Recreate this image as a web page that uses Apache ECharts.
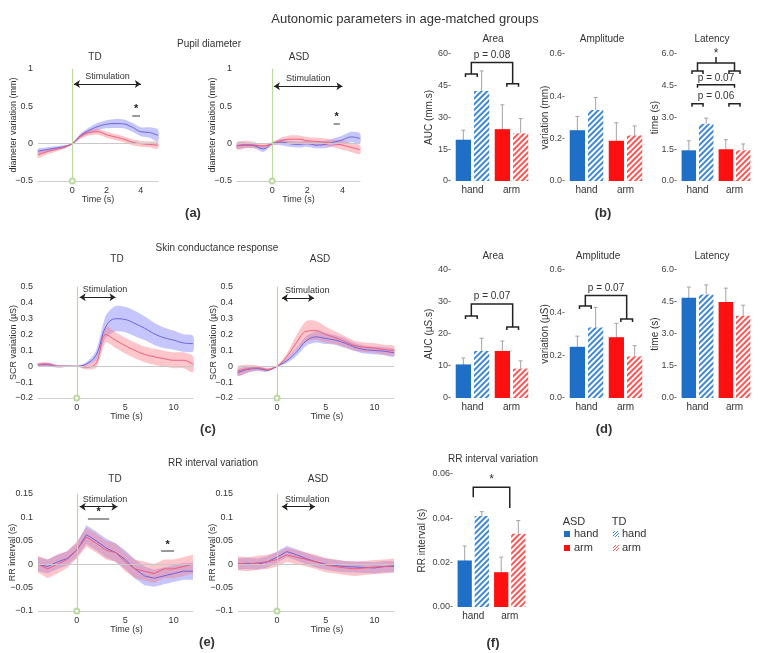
<!DOCTYPE html>
<html>
<head>
<meta charset="utf-8">
<script src="https://cdn.jsdelivr.net/npm/echarts@6/dist/echarts.min.js"></script>
<style>
  html, body { margin: 0; padding: 0; background: #fff; }
  #chart { width: 761px; height: 653px; }
</style>
</head>
<body>
<div id="chart"></div>
<script>
// ---- data ----
const bodyParts = ['hand', 'arm'];

const pupilTime = [-2, -1.5, -1, -0.5, 0, 0.5, 1, 1.5, 2, 2.5, 3, 3.5, 4, 4.5, 5];
const pupilTicks = [0, 2, 4];
const pupilTdHand = [-0.10, -0.08, -0.06, -0.04, 0, 0.11, 0.18, 0.23, 0.26, 0.27, 0.265, 0.22, 0.16, 0.15, 0.11];
const pupilTdHandCi = [0.035, 0.03, 0.025, 0.02, 0.01, 0.03, 0.04, 0.05, 0.055, 0.06, 0.06, 0.06, 0.06, 0.07, 0.08];
const pupilTdArm = [-0.15, -0.11, -0.08, -0.05, 0, 0.10, 0.15, 0.16, 0.12, 0.09, 0.06, 0.02, 0, -0.01, -0.02];
const pupilTdArmCi = [0.04, 0.035, 0.03, 0.02, 0.01, 0.03, 0.04, 0.04, 0.04, 0.04, 0.04, 0.04, 0.04, 0.04, 0.045];
const pupilAsdHand = [-0.03, -0.02, -0.03, -0.07, 0, 0.02, 0, -0.01, 0, -0.02, -0.01, 0.02, 0.05, 0.09, 0.07];
const pupilAsdHandCi = [0.04, 0.035, 0.03, 0.04, 0.02, 0.04, 0.04, 0.04, 0.04, 0.04, 0.05, 0.05, 0.06, 0.07, 0.07];
const pupilAsdArm = [-0.03, -0.01, -0.02, -0.03, 0, 0.04, 0.06, 0.06, 0.04, 0.03, 0.02, 0, -0.02, -0.05, -0.08];
const pupilAsdArmCi = [0.05, 0.05, 0.04, 0.03, 0.02, 0.04, 0.05, 0.05, 0.05, 0.05, 0.05, 0.05, 0.06, 0.06, 0.06];

const signalTime = [-4, -3, -2, -1, 0, 1, 2, 3, 4, 5, 6, 7, 8, 9, 10, 11, 12];
const signalTicks = [0, 5, 10];
const scrTdHand = [0.01, 0.01, 0, 0, 0, 0.015, 0.07, 0.25, 0.30, 0.295, 0.27, 0.24, 0.205, 0.18, 0.165, 0.147, 0.143];
const scrTdHandCi = [0.01, 0.01, 0.008, 0.005, 0.003, 0.01, 0.03, 0.07, 0.08, 0.08, 0.08, 0.075, 0.07, 0.065, 0.06, 0.055, 0.05];
const scrTdArm = [0.01, 0.015, 0, 0, 0, -0.005, 0.02, 0.2, 0.165, 0.13, 0.10, 0.075, 0.06, 0.048, 0.038, 0.038, 0.013];
const scrTdArmCi = [0.01, 0.01, 0.008, 0.005, 0.003, 0.015, 0.03, 0.05, 0.05, 0.05, 0.05, 0.05, 0.05, 0.05, 0.05, 0.05, 0.05];
const scrAsdHand = [-0.04, -0.02, -0.015, -0.025, 0, 0.035, 0.09, 0.16, 0.185, 0.175, 0.165, 0.145, 0.12, 0.105, 0.1, 0.095, 0.085];
const scrAsdHandCi = [0.02, 0.02, 0.015, 0.01, 0.005, 0.015, 0.025, 0.03, 0.035, 0.035, 0.03, 0.03, 0.025, 0.025, 0.025, 0.025, 0.025];
const scrAsdArm = [-0.03, -0.015, -0.01, -0.02, 0, 0.06, 0.15, 0.22, 0.225, 0.2, 0.18, 0.155, 0.13, 0.12, 0.115, 0.105, 0.1];
const scrAsdArmCi = [0.03, 0.025, 0.015, 0.01, 0.005, 0.02, 0.045, 0.065, 0.06, 0.05, 0.04, 0.035, 0.03, 0.03, 0.03, 0.03, 0.03];

const rrTdHand = [0, -0.005, 0.005, 0.012, 0.03, 0.063, 0.05, 0.035, 0.025, 0.01, -0.01, -0.025, -0.03, -0.025, -0.02, -0.015, -0.015];
const rrTdHandCi = [0.015, 0.015, 0.015, 0.015, 0.015, 0.02, 0.02, 0.02, 0.02, 0.02, 0.02, 0.02, 0.018, 0.018, 0.018, 0.018, 0.018];
const rrTdArm = [0, -0.01, 0, 0.01, 0.03, 0.058, 0.045, 0.03, 0.025, 0.005, -0.01, -0.015, -0.02, -0.01, -0.01, -0.005, 0];
const rrTdArmCi = [0.018, 0.02, 0.02, 0.018, 0.018, 0.02, 0.02, 0.02, 0.02, 0.02, 0.02, 0.02, 0.02, 0.02, 0.02, 0.02, 0.02];
const rrAsdHand = [0, 0.002, 0, 0.005, 0.015, 0.027, 0.02, 0.012, 0.005, 0, -0.003, -0.005, -0.006, -0.007, -0.008, -0.005, -0.005];
const rrAsdHandCi = [0.012, 0.012, 0.012, 0.012, 0.012, 0.012, 0.012, 0.012, 0.012, 0.012, 0.012, 0.012, 0.012, 0.012, 0.012, 0.012, 0.012];
const rrAsdArm = [0.002, 0, 0.003, 0.005, 0.01, 0.02, 0.015, 0.01, 0.005, -0.002, -0.005, -0.008, -0.01, -0.008, -0.006, -0.005, -0.003];
const rrAsdArmCi = [0.015, 0.015, 0.015, 0.015, 0.015, 0.015, 0.015, 0.015, 0.015, 0.015, 0.015, 0.015, 0.015, 0.015, 0.015, 0.015, 0.015];

// bar values [hand, arm] and their error half-widths
const pupilAreaAsd = [19.5, 24.5], pupilAreaAsdErr = [4.5, 11.5];
const pupilAreaTd = [42.5, 22.5], pupilAreaTdErr = [9.5, 7];
const pupilAmpAsd = [0.24, 0.19], pupilAmpAsdErr = [0.065, 0.085];
const pupilAmpTd = [0.335, 0.215], pupilAmpTdErr = [0.06, 0.045];
const pupilLatAsd = [1.45, 1.5], pupilLatAsdErr = [0.45, 0.45];
const pupilLatTd = [2.7, 1.45], pupilLatTdErr = [0.27, 0.3];
const scrAreaAsd = [10.5, 14.7], scrAreaAsdErr = [2, 3.1];
const scrAreaTd = [14.7, 9.2], scrAreaTdErr = [4, 2.4];
const scrAmpAsd = [0.24, 0.285], scrAmpAsdErr = [0.05, 0.065];
const scrAmpTd = [0.33, 0.195], scrAmpTdErr = [0.095, 0.05];
const scrLatAsd = [4.7, 4.5], scrLatAsdErr = [0.5, 0.65];
const scrLatTd = [4.85, 3.85], scrLatTdErr = [0.45, 0.5];
const rrAsd = [0.021, 0.0157], rrAsdErr = [0.0065, 0.0068];
const rrTd = [0.041, 0.033], rrTdErr = [0.002, 0.006];

// ---- styling ----
const FONT = "'Liberation Sans', Arial, sans-serif";
const BLUE_LINE = '#6c64dc', RED_LINE = '#f05c7a';
const BLUE_FILL = 'rgba(120,120,250,0.42)', RED_FILL = 'rgba(250,120,130,0.42)';
const SOLID = ['#1f6fc6', '#ff1010'];
const HATCH = ['#3f88d6', '#ff5454'];
const CAT_GAP = 0.14, BAR_GAP = 0.2;
const BAR_W = (1 - CAT_GAP) / (2 + BAR_GAP);
const BAR_OFF = BAR_W * (1 + BAR_GAP) / 2;

const grids = [], xAxis = [], yAxis = [], series = [], graphics = [];

function text(x, y, str, size, weight) {
  graphics.push({
    type: 'text', x: x, y: y, silent: true,
    style: { text: str, fill: '#333', font: (weight || 'normal') + ' ' + size + 'px ' + FONT,
      align: 'center', verticalAlign: 'middle', textAlign: 'center', textVerticalAlign: 'middle' }
  });
}

function fmtSigned(v) {
  return String(+v.toFixed(3)).replace('-', '\u2212');
}

// confidence band drawn as one polygon through the axis scales
function band(gi, t, mean, ci, fill, smooth) {
  series.push({
    type: 'custom', xAxisIndex: gi, yAxisIndex: gi, silent: true, animation: false,
    data: t.map((x, i) => [x, mean[i] - ci[i], mean[i] + ci[i]]),
    encode: { x: 0, y: [1, 2] },
    renderItem: function (params, api) {
      if (params.dataIndex !== 0) return null;
      const up = t.map((x, i) => api.coord([x, mean[i] + ci[i]]));
      const lo = t.map((x, i) => api.coord([x, mean[i] - ci[i]])).reverse();
      return { type: 'polygon', shape: { points: up.concat(lo), smooth: smooth ? 0.25 : 0 }, style: { fill: fill } };
    }
  });
}

function meanLine(gi, t, mean, color, smooth) {
  return { type: 'line', xAxisIndex: gi, yAxisIndex: gi, symbol: 'none', silent: true, smooth: smooth,
    data: mean.map((m, i) => [t[i], m]), lineStyle: { color: color, width: 1 }, animation: false };
}

function panelMarks(p) {
  const data = [
    { yAxis: 0, lineStyle: { color: '#c8c8c8', width: 1, type: 'solid' }, label: { show: false } },
    { xAxis: 0, symbol: 'emptyCircle', symbolSize: 5, lineStyle: { color: '#bcd9a2', width: 1.2, type: 'solid' }, label: { show: false } },
    [
      { coord: [p.stim[0], p.stimY], symbol: 'arrow', symbolSize: 6,
        lineStyle: { color: '#222', width: 1.2, type: 'solid' },
        label: { show: true, formatter: 'Stimulation', position: p.stimLabel, color: '#333', fontSize: 9, distance: 3 } },
      { coord: [p.stim[1], p.stimY], symbol: 'arrow', symbolSize: 6 }
    ]
  ];
  (p.stars || []).forEach(s => {
    data.push([
      { coord: [s[0], s[2]], lineStyle: { color: '#999', width: 2, type: 'solid' },
        label: { show: true, formatter: '*', position: 'insideMiddleTop', color: '#222', fontSize: 11, fontWeight: 'bold', distance: 1 } },
      { coord: [s[1], s[2]] }
    ]);
  });
  return { silent: true, symbol: 'none', animation: false, data: data };
}

function addLinePanel(p) {
  const gi = grids.length;
  grids.push({ left: p.left, top: p.top, width: p.width, height: p.height });
  xAxis.push({
    type: 'value', gridIndex: gi, min: p.t[0], max: p.t[p.t.length - 1],
    axisLine: { show: true, onZero: false, lineStyle: { color: '#cfcfcf' } },
    axisTick: { show: false }, splitLine: { show: false },
    axisLabel: { customValues: p.ticks, fontSize: 9, color: '#333', margin: 5 },
    name: 'Time (s)', nameLocation: 'middle', nameGap: 14, nameMoveOverlap: false,
    nameTextStyle: { fontSize: 9, color: '#333', padding: p.namePad || 0 }
  });
  yAxis.push({
    type: 'value', gridIndex: gi, min: p.yMin, max: p.yMax, interval: p.yStep,
    axisLine: { show: true, lineStyle: { color: '#cfcfcf' } },
    axisTick: { show: false }, splitLine: { show: false },
    axisLabel: { formatter: fmtSigned, fontSize: 9, color: '#333', margin: 5 },
    name: p.yName, nameLocation: 'middle', nameGap: p.nameGap, nameMoveOverlap: false,
    nameTextStyle: { fontSize: 9, color: '#333' }
  });
  band(gi, p.t, p.hand, p.handCi, BLUE_FILL, p.smooth);
  band(gi, p.t, p.arm, p.armCi, RED_FILL, p.smooth);
  series.push(meanLine(gi, p.t, p.hand, BLUE_LINE, p.smooth));
  const last = meanLine(gi, p.t, p.arm, RED_LINE, p.smooth);
  last.markLine = panelMarks(p);
  series.push(last);
}

function errorBars(side) {
  return function (params, api) {
    const i = api.value(0), v = api.value(1), e = api.value(2);
    const W = api.size([1, 0])[0];
    const x = api.coord([i, v])[0] + side * BAR_OFF * W;
    const yT = api.coord([i, v + e])[1], yB = api.coord([i, v - e])[1];
    const st = { stroke: '#a3a3a3', lineWidth: 1 };
    return { type: 'group', children: [
      { type: 'line', shape: { x1: x, y1: yT, x2: x, y2: yB }, style: st },
      { type: 'line', shape: { x1: x - 2, y1: yT, x2: x + 2, y2: yT }, style: st },
      { type: 'line', shape: { x1: x - 2, y1: yB, x2: x + 2, y2: yB }, style: st }
    ] };
  };
}

function bracketRender(specs) {
  return function (params, api) {
    const b = specs[params.dataIndex];
    const W = api.size([1, 0])[0];
    const c0 = api.coord([0, 0])[0];
    const px = u => c0 + u * W;
    const py = v => api.coord([0, v])[1];
    const st = { stroke: '#222', lineWidth: 1.5, fill: null };
    const kids = [];
    const x1 = px(b.x1), x2 = px(b.x2);
    if (!b.capsOnly) {
      kids.push({ type: 'polyline', shape: { points: [[x1, py(b.y1)], [x1, py(b.top)], [x2, py(b.top)], [x2, py(b.y2)]] }, style: st });
    }
    if (b.caps) {
      const hw = 0.15 * W;
      [[x1, py(b.y1)], [x2, py(b.y2)]].forEach(c => {
        kids.push({ type: 'polyline', shape: { points: [[c[0] - hw, c[1] + 3], [c[0] - hw, c[1]], [c[0] + hw, c[1]], [c[0] + hw, c[1] + 3]] }, style: st });
      });
    }
    if (b.tick) {
      const xm = (x1 + x2) / 2;
      kids.push({ type: 'line', shape: { x1: xm, y1: py(b.top), x2: xm, y2: py(b.top) - 6 }, style: st });
    }
    if (b.text) {
      kids.push({ type: 'text', x: (x1 + x2) / 2, y: py(b.textY),
        style: { text: b.text, fill: '#333', font: (b.text === '*' ? 12 : 10) + 'px ' + FONT,
          align: 'center', verticalAlign: 'middle', textAlign: 'center', textVerticalAlign: 'middle' } });
    }
    return { type: 'group', children: kids };
  };
}

function addBarPanel(p) {
  const gi = grids.length;
  grids.push({ left: p.left, top: p.top, width: p.width, height: p.height });
  xAxis.push({
    type: 'category', gridIndex: gi, data: bodyParts,
    axisLine: { show: false }, axisTick: { show: false },
    axisLabel: { fontSize: 10, color: '#333', margin: 4 }
  });
  yAxis.push({
    type: 'value', gridIndex: gi, min: 0, max: p.max, interval: p.step,
    axisLine: { show: false }, axisTick: { show: false }, splitLine: { show: false },
    axisLabel: { formatter: v => v.toFixed(p.dec) + '-', fontSize: 9, color: '#444', margin: 2 },
    name: p.yName, nameLocation: 'middle', nameGap: p.nameGap, nameMoveOverlap: false,
    nameTextStyle: { fontSize: 10, color: '#333' }
  });
  const barCommon = { type: 'bar', xAxisIndex: gi, yAxisIndex: gi, silent: true, animation: false,
    barCategoryGap: (CAT_GAP * 100) + '%', barGap: (BAR_GAP * 100) + '%' };
  series.push(Object.assign({ name: 'ASD', data: p.asd.map((v, i) => ({ value: v, itemStyle: { color: SOLID[i] } })) }, barCommon));
  series.push(Object.assign({ name: 'TD', data: p.td.map((v, i) => ({ value: v, itemStyle: {
    color: '#ffffff',
    decal: { symbol: 'rect', color: HATCH[i], backgroundColor: '#ffffff', dashArrayX: [1, 0], dashArrayY: [1.4, 1.8], rotation: -Math.PI / 4 }
  } })) }, barCommon));
  series.push({ type: 'custom', xAxisIndex: gi, yAxisIndex: gi, silent: true, animation: false,
    data: p.asd.map((v, i) => [i, v, p.asdErr[i]]), encode: { x: 0, y: 1 }, renderItem: errorBars(-1) });
  series.push({ type: 'custom', xAxisIndex: gi, yAxisIndex: gi, silent: true, animation: false,
    data: p.td.map((v, i) => [i, v, p.tdErr[i]]), encode: { x: 0, y: 1 }, renderItem: errorBars(1) });
  if (p.brackets) {
    series.push({ type: 'custom', xAxisIndex: gi, yAxisIndex: gi, silent: true, animation: false, clip: false,
      data: p.brackets.map(b => [0, b.top]), encode: { x: 0, y: 1 }, renderItem: bracketRender(p.brackets), z: 5 });
  }
}

// ---- panel (a): pupil diameter ----
addLinePanel({ left: 38, top: 69, width: 120, height: 112, t: pupilTime, ticks: pupilTicks,
  yMin: -0.5, yMax: 1, yStep: 0.5, yName: 'diameter variation (mm)', nameGap: 20, smooth: 0.4,
  hand: pupilTdHand, handCi: pupilTdHandCi, arm: pupilTdArm, armCi: pupilTdArmCi,
  stim: [0.1, 4], stimY: 0.8, stimLabel: 'insideMiddleTop', stars: [[3.5, 3.95, 0.377]] });
addLinePanel({ left: 237, top: 69, width: 123, height: 112, t: pupilTime, ticks: pupilTicks,
  yMin: -0.5, yMax: 1, yStep: 0.5, yName: 'diameter variation (mm)', nameGap: 20, smooth: 0.4,
  hand: pupilAsdHand, handCi: pupilAsdHandCi, arm: pupilAsdArm, armCi: pupilAsdArmCi,
  stim: [0.1, 4], stimY: 0.77, stimLabel: 'insideMiddleTop', stars: [[3.5, 3.85, 0.267]] });

// ---- panel (c): skin conductance ----
addLinePanel({ left: 38, top: 287, width: 155, height: 111, t: signalTime, ticks: signalTicks,
  yMin: -0.2, yMax: 0.5, yStep: 0.1, yName: 'SCR variation (\u00b5S)', nameGap: 20, smooth: 0.4, namePad: [0, 0, 0, 22],
  hand: scrTdHand, handCi: scrTdHandCi, arm: scrTdArm, armCi: scrTdArmCi,
  stim: [0.3, 4], stimY: 0.435, stimLabel: 'insideStartTop' });
addLinePanel({ left: 238, top: 287, width: 156, height: 111, t: signalTime, ticks: signalTicks,
  yMin: -0.2, yMax: 0.5, yStep: 0.1, yName: 'SCR variation (\u00b5S)', nameGap: 20, smooth: 0.4, namePad: [0, 0, 0, 22],
  hand: scrAsdHand, handCi: scrAsdHandCi, arm: scrAsdArm, armCi: scrAsdArmCi,
  stim: [0.5, 3.8], stimY: 0.43, stimLabel: 'insideStartTop' });

// ---- panel (e): RR interval ----
addLinePanel({ left: 38, top: 494, width: 155, height: 117, t: signalTime, ticks: signalTicks,
  yMin: -0.1, yMax: 0.15, yStep: 0.05, yName: 'RR interval (s)', nameGap: 21, smooth: false, namePad: [0, 0, 0, 22],
  hand: rrTdHand, handCi: rrTdHandCi, arm: rrTdArm, armCi: rrTdArmCi,
  stim: [0.3, 4.2], stimY: 0.123, stimLabel: 'insideStartTop',
  stars: [[1.15, 3.35, 0.097], [8.7, 10.05, 0.028]] });
addLinePanel({ left: 238, top: 494, width: 156, height: 117, t: signalTime, ticks: signalTicks,
  yMin: -0.1, yMax: 0.15, yStep: 0.05, yName: 'RR interval (s)', nameGap: 21, smooth: false, namePad: [0, 0, 0, 22],
  hand: rrAsdHand, handCi: rrAsdHandCi, arm: rrAsdArm, armCi: rrAsdArmCi,
  stim: [0.5, 3.9], stimY: 0.123, stimLabel: 'insideStartTop' });

// ---- panel (b): pupil bars ----
addBarPanel({ left: 453, top: 54, width: 78, height: 127, max: 60, step: 15, dec: 0,
  yName: 'AUC (mm.s)', nameGap: 19, asd: pupilAreaAsd, asdErr: pupilAreaAsdErr, td: pupilAreaTd, tdErr: pupilAreaTdErr,
  brackets: [{ x1: -0.03, x2: 1.03, top: 56, y1: 50.5, y2: 46, caps: true, text: 'p = 0.08', textY: 59.5 }] });
addBarPanel({ left: 567, top: 54, width: 78, height: 127, max: 0.6, step: 0.2, dec: 1,
  yName: 'variation (mm)', nameGap: 17, asd: pupilAmpAsd, asdErr: pupilAmpAsdErr, td: pupilAmpTd, tdErr: pupilAmpTdErr });
addBarPanel({ left: 679, top: 54, width: 74, height: 127, max: 6, step: 1.5, dec: 1,
  yName: 'time (s)', nameGap: 19, asd: pupilLatAsd, asdErr: pupilLatAsdErr, td: pupilLatTd, tdErr: pupilLatTdErr,
  brackets: [
    { x1: 0, x2: 1, top: 5.57, y1: 5.2, y2: 5.2, caps: true, tick: true, text: '*', textY: 6.0 },
    { x1: 0, x2: 1, top: 4.55, y1: 4.4, y2: 4.4, text: 'p = 0.07', textY: 4.86 },
    { x1: 0, x2: 1, top: 3.65, y1: 3.65, y2: 3.65, caps: true, capsOnly: true, text: 'p = 0.06', textY: 4.0 }
  ] });

// ---- panel (d): SCR bars ----
addBarPanel({ left: 453, top: 270, width: 78, height: 128, max: 40, step: 10, dec: 0,
  yName: 'AUC (\u00b5S.s)', nameGap: 19, asd: scrAreaAsd, asdErr: scrAreaAsdErr, td: scrAreaTd, tdErr: scrAreaTdErr,
  brackets: [{ x1: -0.03, x2: 1.03, top: 29.4, y1: 25.6, y2: 22.2, caps: true, text: 'p = 0.07', textY: 31.8 }] });
addBarPanel({ left: 567, top: 270, width: 78, height: 128, max: 0.6, step: 0.2, dec: 1,
  yName: 'variation (\u00b5S)', nameGap: 17, asd: scrAmpAsd, asdErr: scrAmpAsdErr, td: scrAmpTd, tdErr: scrAmpTdErr,
  brackets: [{ x1: -0.03, x2: 1.03, top: 0.48, y1: 0.431, y2: 0.37, caps: true, text: 'p = 0.07', textY: 0.515 }] });
addBarPanel({ left: 679, top: 270, width: 74, height: 128, max: 6, step: 1.5, dec: 1,
  yName: 'time (s)', nameGap: 19, asd: scrLatAsd, asdErr: scrLatAsdErr, td: scrLatTd, tdErr: scrLatTdErr });

// ---- panel (f): RR bars ----
addBarPanel({ left: 455, top: 474, width: 73, height: 133, max: 0.06, step: 0.02, dec: 2,
  yName: 'RR interval (s)', nameGap: 28, asd: rrAsd, asdErr: rrAsdErr, td: rrTd, tdErr: rrTdErr,
  brackets: [{ x1: 0, x2: 1, top: 0.054, y1: 0.0495, y2: 0.0447, text: '*', textY: 0.0575 }] });

// ---- titles and labels ----
text(405, 19, 'Autonomic parameters in age-matched groups', 13);
text(209, 44, 'Pupil diameter', 10);
text(95, 57, 'TD', 10);
text(299, 57, 'ASD', 10);
text(493, 39, 'Area', 10);
text(602, 39, 'Amplitude', 10);
text(712, 39, 'Latency', 10);
text(193, 213, '(a)', 13, 'bold');
text(603, 213, '(b)', 13, 'bold');

text(217, 248, 'Skin conductance response', 10);
text(117, 259, 'TD', 10);
text(320, 259, 'ASD', 10);
text(493, 256, 'Area', 10);
text(598, 256, 'Amplitude', 10);
text(712, 256, 'Latency', 10);
text(208, 429, '(c)', 13, 'bold');
text(604, 429, '(d)', 13, 'bold');

text(213, 463, 'RR interval variation', 10);
text(115, 479, 'TD', 10);
text(318, 479, 'ASD', 10);
text(493, 459, 'RR interval variation', 10);
text(207, 642, '(e)', 13, 'bold');
text(493, 643, '(f)', 13, 'bold');

// legend for (f)
function hatchFill(color) {
  const c = document.createElement('canvas');
  c.width = c.height = 3;
  const g = c.getContext('2d');
  g.strokeStyle = color; g.lineWidth = 1;
  g.beginPath(); g.moveTo(0, 3); g.lineTo(3, 0); g.stroke();
  return { image: c, repeat: 'repeat' };
}
const legendRows = [['hand', 534], ['arm', 548]];
text(574, 522, 'ASD', 11);
text(619, 522, 'TD', 11);
legendRows.forEach((r, i) => {
  graphics.push({ type: 'rect', shape: { x: 564, y: r[1] - 3, width: 6, height: 6 }, style: { fill: SOLID[i] }, silent: true });
  graphics.push({ type: 'rect', shape: { x: 613, y: r[1] - 3, width: 6, height: 6 }, style: { fill: hatchFill(HATCH[i]) }, silent: true });
  text(575 + r[0].length * 2.8, r[1], r[0], 11);
  text(623 + r[0].length * 2.8, r[1], r[0], 11);
});

const chart = echarts.init(document.getElementById('chart'), null, { renderer: 'canvas' });
chart.setOption({
  backgroundColor: '#ffffff',
  animation: false,
  textStyle: { fontFamily: FONT },
  aria: { enabled: false },
  grid: grids,
  xAxis: xAxis,
  yAxis: yAxis,
  series: series,
  graphic: graphics
});
</script>
</body>
</html>
